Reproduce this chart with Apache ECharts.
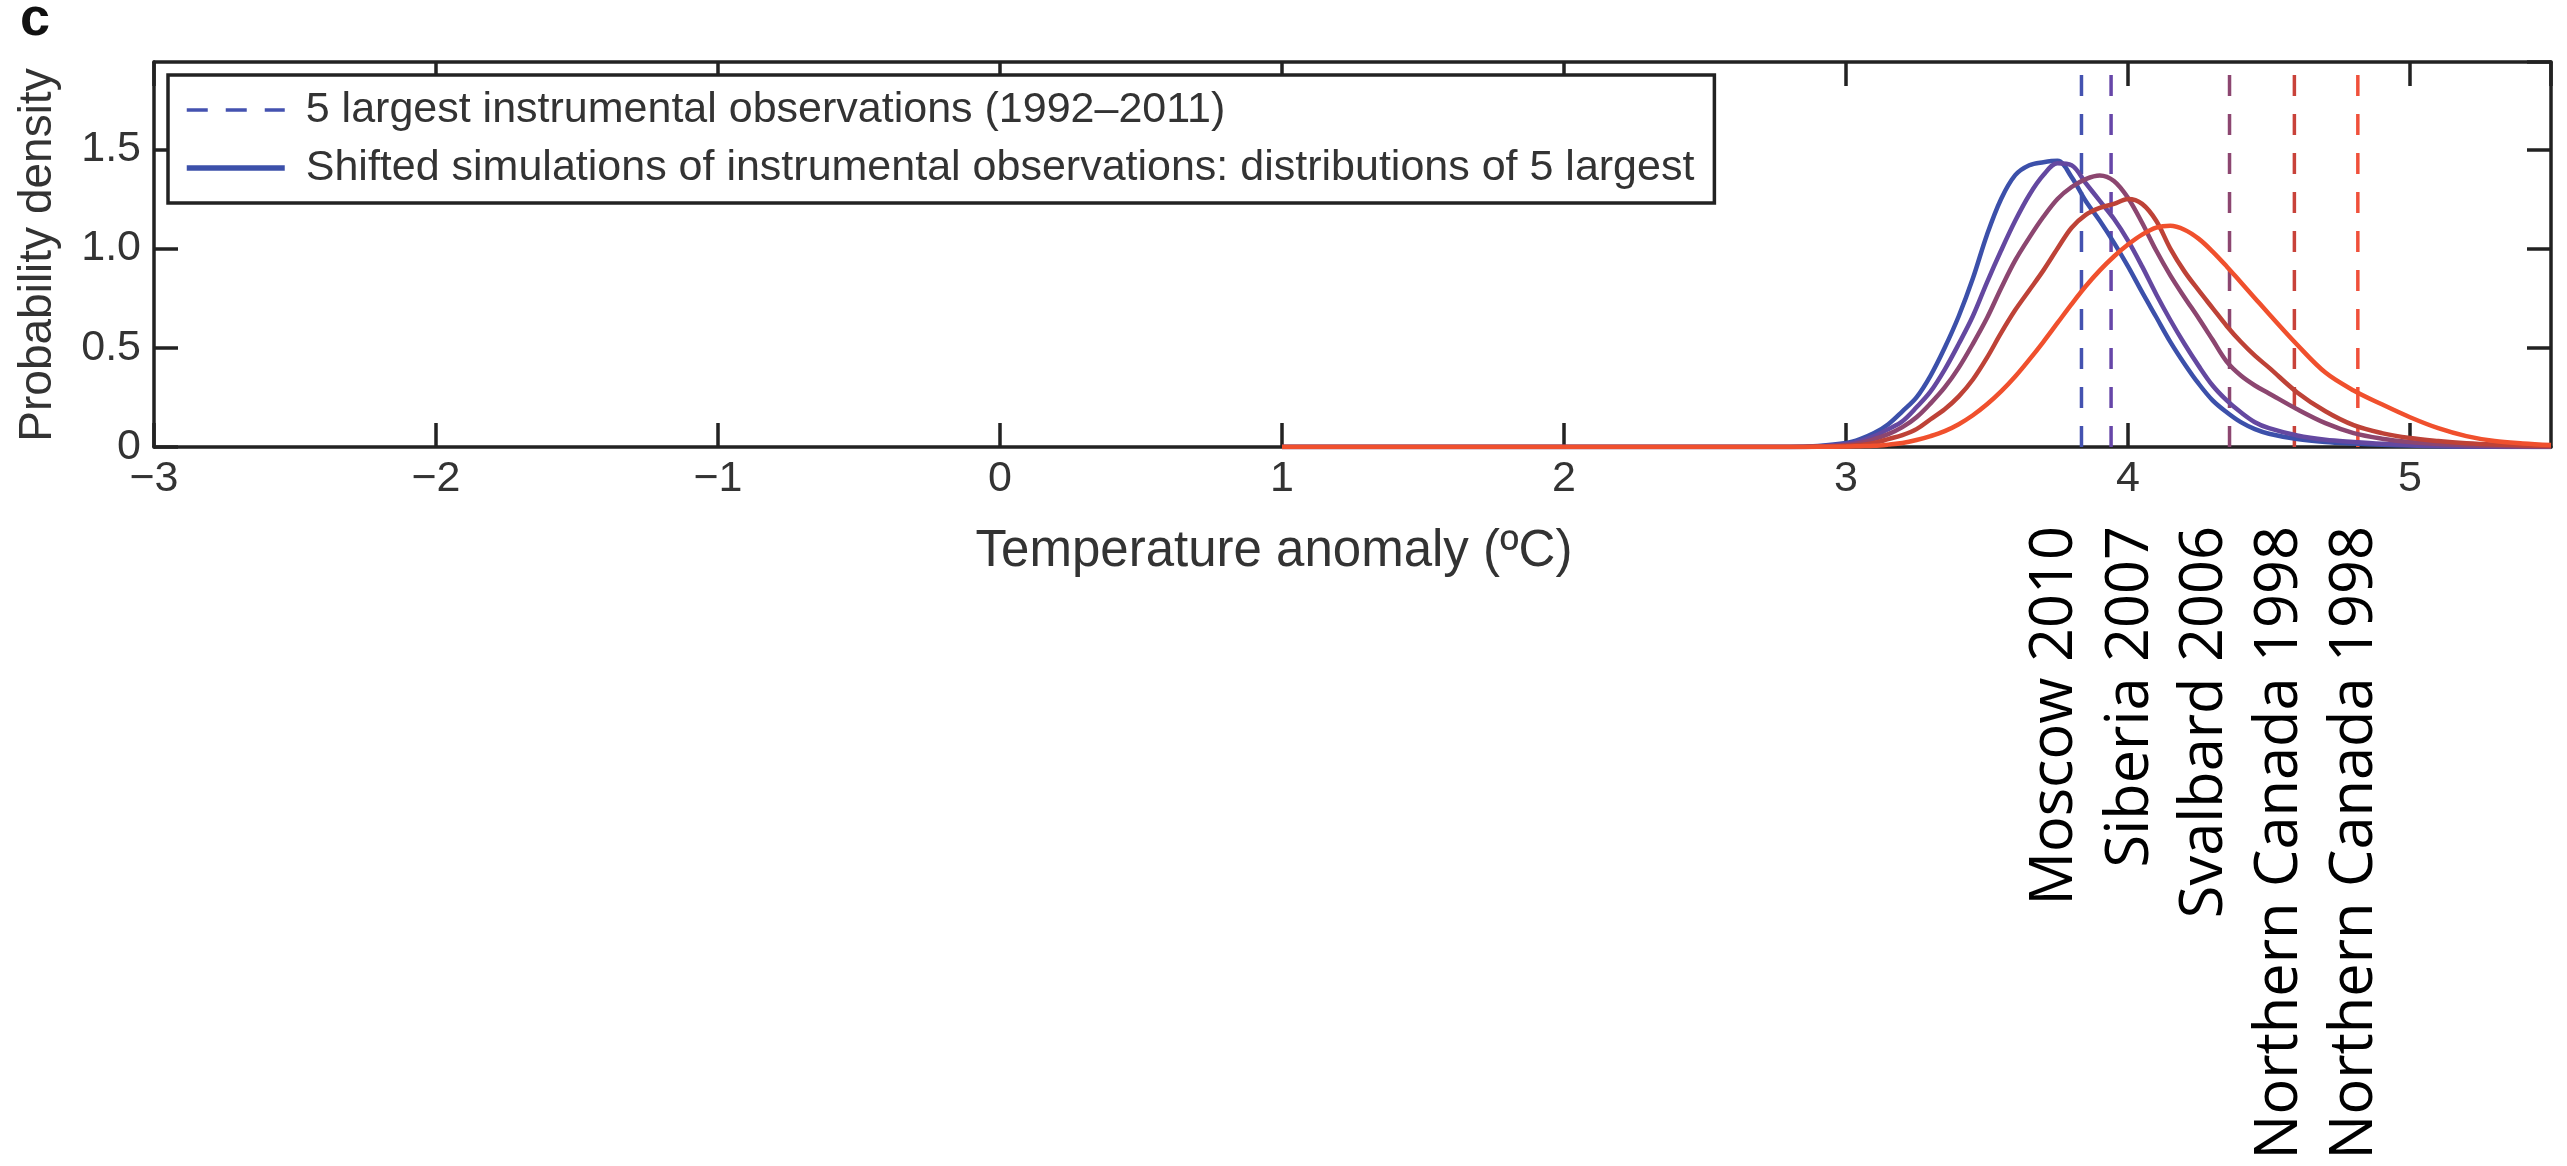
<!DOCTYPE html>
<html>
<head>
<meta charset="utf-8">
<title>Probability density of temperature anomaly</title>
<script src="https://cdn.jsdelivr.net/npm/echarts@6/dist/echarts.min.js"></script>
<style>
  html, body { margin: 0; padding: 0; background: #ffffff; }
  #chart { width: 2567px; height: 1166px; }
</style>
</head>
<body>
<div id="chart"></div>
<script>
// Temperature anomaly grid (°C) shared by all five simulated distributions
const anomalyGrid = [
  1.0, 2.8, 2.9, 3.0,
  3.05, 3.1, 3.15, 3.2, 3.25, 3.3, 3.35, 3.4, 3.45,
  3.5, 3.55, 3.6, 3.65, 3.7, 3.75, 3.8, 3.85, 3.9, 3.95,
  4.0, 4.05, 4.1, 4.15, 4.2, 4.25, 4.3, 4.35, 4.4, 4.45, 4.5,
  4.6, 4.7, 4.8, 4.9, 5.0, 5.1, 5.2, 5.3, 5.4, 5.5
];

// Shifted simulations: probability density of each of the 5 largest events
const densityMoscow = [
  0, 0, 0.005, 0.02,
  0.04, 0.07, 0.115, 0.18, 0.25, 0.36, 0.50, 0.66, 0.85,
  1.07, 1.25, 1.37, 1.42, 1.435, 1.442, 1.36, 1.24, 1.14, 1.03,
  0.91, 0.78, 0.655, 0.53, 0.42, 0.32, 0.235, 0.175, 0.125, 0.09, 0.067,
  0.04, 0.025, 0.017, 0.011, 0.007, 0.004, 0.002, 0.001, 0, 0
];
const densitySiberia = [
  0, 0, 0.003, 0.015,
  0.03, 0.055, 0.09, 0.13, 0.2, 0.28, 0.39, 0.52, 0.66,
  0.83, 0.99, 1.14, 1.27, 1.37, 1.43, 1.42, 1.33, 1.24, 1.15,
  1.04, 0.91, 0.77, 0.64, 0.52, 0.41, 0.31, 0.235, 0.175, 0.125, 0.095,
  0.058, 0.036, 0.025, 0.016, 0.01, 0.006, 0.003, 0.002, 0.001, 0
];
const densitySvalbard = [
  0, 0, 0.002, 0.01,
  0.02, 0.04, 0.065, 0.1, 0.15, 0.22, 0.3, 0.4, 0.52,
  0.65, 0.80, 0.94, 1.055, 1.16, 1.25, 1.31, 1.35, 1.368, 1.34,
  1.255, 1.13, 0.99, 0.865, 0.755, 0.65, 0.54, 0.43, 0.36, 0.31, 0.27,
  0.19, 0.12, 0.07, 0.042, 0.025, 0.015, 0.009, 0.005, 0.003, 0.001
];
const densityCanadaA = [
  0, 0, 0.001, 0.005,
  0.01, 0.02, 0.04, 0.06, 0.09, 0.14, 0.19, 0.255, 0.34,
  0.45, 0.575, 0.69, 0.79, 0.89, 1.0, 1.105, 1.17, 1.205, 1.225,
  1.25, 1.225, 1.14, 1.0, 0.885, 0.79, 0.70, 0.61, 0.53, 0.46, 0.40,
  0.275, 0.18, 0.11, 0.07, 0.045, 0.03, 0.019, 0.012, 0.008, 0.005
];
const densityCanadaB = [
  0, 0, 0.001, 0.002,
  0.004, 0.006, 0.012, 0.02, 0.035, 0.055, 0.08, 0.115, 0.16,
  0.215, 0.28, 0.355, 0.44, 0.53, 0.625, 0.72, 0.81, 0.89, 0.96,
  1.02, 1.07, 1.105, 1.115, 1.095, 1.05, 0.985, 0.91, 0.83, 0.75, 0.67,
  0.515, 0.375, 0.285, 0.215, 0.15, 0.095, 0.055, 0.03, 0.018, 0.01
];
const simulatedDensities = [densityMoscow, densitySiberia, densitySvalbard, densityCanadaA, densityCanadaB];

// Five largest instrumental observations (1992–2011)
const observedAnomaly = [3.835, 3.94, 4.36, 4.59, 4.815];
const observedEvents = ['Moscow 2010', 'Siberia 2007', 'Svalbard 2006', 'Northern Canada 1998', 'Northern Canada 1998'];

// Axis ranges and tick steps
const xRange = [-3, 5.5];
const yRange = [0, 1.94];
const xStep = 1;
const yStep = 0.5;

const obsLegend = '5 largest instrumental observations (1992\u20132011)';
const simLegend = 'Shifted simulations of instrumental observations: distributions of 5 largest';

const curveColors = ['#3c50aa', '#6448a0', '#8c4670', '#be4237', '#f0502d'];
const obsColors = ['#4452b0', '#6646a8', '#8c4670', '#c8423a', '#f0503a'];

const axisColor = '#222222';
const textColor = '#333333';
const labelFont = 'Liberation Sans, Arial, Helvetica, sans-serif';

const chart = echarts.init(document.getElementById('chart'), null, { renderer: 'canvas' });

const obsSeries = observedAnomaly.map((t, i) => ({
  type: 'line',
  name: obsLegend,
  data: [[t, yRange[0]], [t, yRange[1]]],
  symbol: 'none',
  showSymbol: false,
  silent: true,
  z: 2,
  lineStyle: { color: obsColors[i], width: 3.5, type: [21, 18] },
  itemStyle: { color: obsColors[i] }
}));

const simSeries = simulatedDensities.map((vals, i) => ({
  type: 'line',
  name: simLegend,
  data: anomalyGrid.map((x, k) => [x, vals[k]]),
  symbol: 'none',
  showSymbol: false,
  smooth: 0.35,
  silent: true,
  z: 3,
  lineStyle: { color: curveColors[i], width: 4.5 },
  itemStyle: { color: curveColors[i] }
}));

const minus = v => (v < 0 ? '\u2212' + Math.abs(v) : String(v));

function frameAxis(extra) {
  return Object.assign({
    type: 'value',
    axisLine: { show: true, onZero: false, lineStyle: { color: axisColor, width: 3.5 } },
    axisTick: { show: true, inside: true, length: 24, lineStyle: { color: axisColor, width: 3.5 } },
    splitLine: { show: false }
  }, extra);
}

const option = {
  animation: false,
  backgroundColor: '#ffffff',
  grid: { left: 154, right: 16, top: 62, bottom: 719, containLabel: false },
  xAxis: [
    frameAxis({
      position: 'bottom', min: xRange[0], max: xRange[1], interval: xStep,
      axisLabel: {
        show: true, margin: 11, fontSize: 43, color: textColor, fontFamily: labelFont,
        showMaxLabel: false,
        formatter: v => (Number.isInteger(v) ? minus(v) : '')
      }
    }),
    frameAxis({
      position: 'top', min: xRange[0], max: xRange[1], interval: xStep,
      axisLabel: { show: false }
    })
  ],
  yAxis: [
    frameAxis({
      position: 'left', min: yRange[0], max: yRange[1], interval: yStep,
      axisLabel: {
        show: true, margin: 13, fontSize: 43, color: textColor, fontFamily: labelFont,
        showMaxLabel: false,
        formatter: v => (v === 0 ? '0' : v.toFixed(1))
      }
    }),
    frameAxis({
      position: 'right', min: yRange[0], max: yRange[1], interval: yStep,
      axisLabel: { show: false }
    })
  ],
  legend: {
    data: [
      { name: obsLegend, lineStyle: { width: 3.5 } },
      { name: simLegend, lineStyle: { width: 5.5 } }
    ],
    orient: 'vertical',
    left: 168, top: 75,
    padding: [12, 20, 12, 16],
    itemGap: 12,
    itemWidth: 98,
    itemHeight: 46,
    backgroundColor: '#ffffff',
    borderColor: axisColor,
    borderWidth: 3.5,
    borderRadius: 0,
    selectedMode: false,
    itemStyle: { opacity: 0, borderWidth: 0 },
    textStyle: {
      fontSize: 43, color: textColor, fontFamily: labelFont,
      lineHeight: 46, padding: [0, 0, 0, 16]
    }
  },
  graphic: [
    {
      type: 'text', left: 20, top: -7,
      style: { text: 'c', font: 'bold 54px ' + labelFont, fill: '#111111' }
    },
    {
      type: 'text', x: 38, y: 255, rotation: Math.PI / 2,
      style: {
        text: 'Probability density', font: '46px ' + labelFont, fill: textColor,
        align: 'center', verticalAlign: 'middle'
      }
    },
    {
      type: 'text', x: 1274, y: 552,
      style: {
        text: 'Temperature anomaly (\u00baC)', font: '51px ' + labelFont, fill: textColor,
        align: 'center', verticalAlign: 'middle'
      }
    }
  ].concat(observedEvents.map((name, i) => ({
    type: 'text', x: [2055, 2131, 2205, 2280, 2355][i], y: 526, rotation: Math.PI / 2,
    style: {
      text: name, font: '59.5px "Open Sans", "Noto Sans", sans-serif', fill: '#000000',
      align: 'right', verticalAlign: 'middle'
    }
  }))),
  series: obsSeries.concat(simSeries)
};

chart.setOption(option);
</script>
</body>
</html>
